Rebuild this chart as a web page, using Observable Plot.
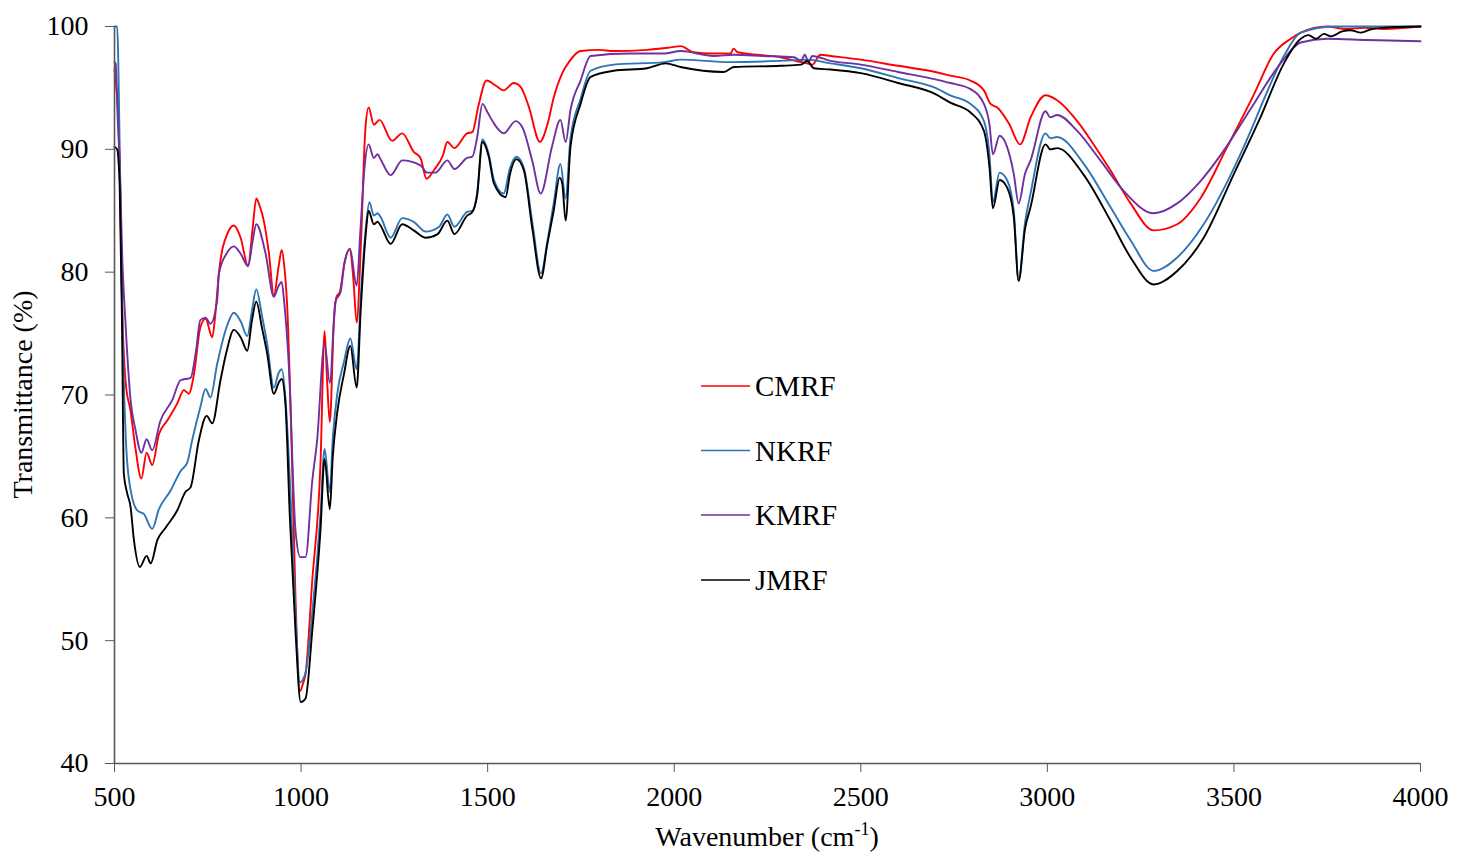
<!DOCTYPE html>
<html><head><meta charset="utf-8">
<script src="https://cdn.jsdelivr.net/npm/d3@7"></script>
<script src="https://cdn.jsdelivr.net/npm/@observablehq/plot@0.6"></script>
<style>html,body{margin:0;padding:0;background:#fff;} svg{display:block;}</style>
</head><body><div id="chart"></div>
<script>
const seriesNames = ["CMRF", "NKRF", "KMRF", "JMRF"];
const seriesColors = ["#ff0000", "#2e75b6", "#7030a0", "#000000"];
const xTicks = [500, 1000, 1500, 2000, 2500, 3000, 3500, 4000];
const yTicks = [40, 50, 60, 70, 80, 90, 100];

const cmrfWn = [500,505,510,515,520,530,543,556,572,586,601,619,641,668,686,699,713,730,744,762,770,780,802,820,838,858,870,880,890,900,914,927,940,948,955,963,976,985,997,1005,1012,1030,1052,1063,1070,1077,1088,1095,1104,1116,1131,1140,1149,1160,1172,1181,1195,1210,1244,1271,1302,1320,1336,1356,1380,1392,1411,1445,1459,1475,1497,1521,1543,1570,1588,1610,1640,1660,1677,1700,1720,1749,1800,1837,1927,1990,2017,2052,2100,2151,2159,2170,2285,2340,2356,2370,2392,2419,2500,2600,2700,2740,2794,2830,2848,2866,2897,2927,2955,2995,3026,3080,3124,3169,3223,3285,3348,3410,3482,3554,3607,3652,3679,3750,3800,3850,3900,4000];
const cmrfT = [96.5,95,93,87,78,71,68.7,65.7,63.2,65.3,64.3,66.8,67.9,69.3,70.4,70.1,71.7,75.5,76.2,74.7,76.5,80.0,83.1,83.8,82.8,80.5,83.5,86.0,85.3,84.2,81.5,78.1,80.5,81.8,80.5,77.1,64.4,53.5,45.9,46.5,47.3,54.9,64.4,75.2,71.0,67.8,76.0,78.0,78.4,80.7,81.9,79.5,75.9,82.0,91.5,93.4,92.0,92.4,90.7,91.3,89.8,89.3,87.6,88.3,89.5,90.6,90.1,91.3,91.4,93.5,95.6,95.2,94.8,95.4,95.1,93.5,90.6,92.0,94.2,96.2,97.2,98.0,98.1,98.0,98.1,98.3,98.4,97.9,97.8,97.8,98.2,97.9,97.5,97.1,97.0,96.9,97.7,97.6,97.3,96.8,96.3,96.0,95.6,94.8,93.7,93.4,92.1,90.4,92.6,94.4,94.0,92.3,90.4,88.3,85.6,83.4,83.9,86.0,90.2,94.5,97.8,99.0,99.5,100,99.8,99.9,99.8,100];

const nkrfWn = [500,507,514,521,529,538,561,579,601,619,650,677,695,708,730,744,757,775,800,820,838,856,868,880,895,909,927,940,948,958,972,985,997,1012,1030,1052,1063,1077,1085,1097,1115,1132,1149,1160,1173,1183,1195,1205,1213,1240,1271,1302,1334,1370,1392,1411,1445,1459,1472,1486,1503,1517,1543,1560,1577,1597,1620,1643,1660,1677,1695,1709,1722,1749,1776,1838,1973,2017,2151,2285,2356,2419,2500,2600,2700,2740,2794,2830,2845,2854,2872,2892,2910,2923,2940,2955,2995,3008,3026,3098,3169,3223,3285,3348,3419,3491,3545,3571,3634,3679,3768,4000];
const nkrfT = [100,100,90,76,67.4,63.3,60.6,60.3,59.1,60.7,62.2,63.8,64.5,66.3,69.0,70.5,69.8,72.5,75.5,76.7,76.0,74.8,76.8,78.6,76.5,74.2,70.6,71.8,72.1,69.8,61.7,52.2,46.6,47.4,52.2,60.3,65.6,62.1,66.5,70.1,72.7,74.6,72.1,78.0,83.4,85.7,84.6,84.8,84.5,82.8,84.4,84.1,83.3,83.7,84.7,83.7,84.9,85.0,86.5,90.8,89.6,87.5,86.4,88.5,89.4,88.5,84.0,79.9,82.5,85.6,88.8,86.0,90.9,94.1,96.4,96.9,97.1,97.3,97.1,97.2,97.3,97.0,96.6,95.8,95.0,94.4,93.7,92.3,89.5,85.7,88.1,87.5,85.0,79.3,84.0,86.4,91.3,90.9,91.0,88.8,85.3,82.6,80.1,81.2,83.9,87.9,91.5,93.4,97.6,99.5,100,100];

const kmrfWn = [500,503,508,514,521,529,543,556,572,586,601,623,655,677,704,718,730,744,757,775,780,800,820,838,858,870,880,905,927,940,948,955,967,985,998,1012,1030,1043,1063,1077,1092,1106,1116,1131,1149,1159,1170,1181,1195,1205,1213,1240,1271,1320,1338,1360,1392,1411,1445,1459,1472,1486,1500,1517,1543,1575,1593,1620,1642,1673,1695,1709,1722,1749,1776,1883,1973,2017,2106,2160,2240,2321,2340,2350,2360,2370,2419,2500,2600,2700,2740,2794,2830,2845,2854,2872,2892,2910,2923,2940,2955,2995,3008,3026,3080,3142,3205,3285,3348,3410,3482,3545,3625,3679,3750,3857,4000];
const kmrfT = [97.1,97.0,93,88.8,81,76.1,69.6,67.2,65.3,66.4,65.5,67.9,69.6,71.2,71.4,73.5,76.1,76.3,75.8,77.7,79.9,81.5,82.1,81.5,80.5,82.5,83.9,81.5,78.0,78.9,79.2,77.5,72.5,59.0,56.8,56.8,63.0,66.3,74.2,71.0,77.6,78.4,80.7,81.9,78.9,83.4,88.5,90.4,89.3,89.6,89.2,87.9,89.1,88.7,88.1,88.1,89.1,88.4,89.3,89.4,91.0,93.7,93.0,92.1,91.3,92.3,91.8,89.0,86.4,90.3,92.4,90.6,93.2,95.6,97.6,97.8,97.8,98.0,97.6,97.7,97.6,97.5,97.2,97.7,97.1,97.6,97.2,96.9,96.3,95.7,95.4,94.9,93.7,92.0,89.6,91.1,90.2,88.0,85.6,88.0,89.1,93.1,92.6,92.8,91.5,89.1,86.6,84.8,85.6,87.4,90.3,93.3,97.0,98.7,99.0,98.9,98.8];

const jmrfWn = [500,507,514,520,525,534,543,552,568,586,597,615,637,668,690,704,726,747,762,784,800,820,838,856,868,880,895,909,927,940,948,958,970,985,999,1012,1030,1052,1063,1077,1085,1097,1115,1132,1149,1160,1173,1181,1195,1205,1213,1240,1271,1302,1334,1366,1392,1411,1445,1459,1472,1486,1503,1517,1548,1560,1577,1597,1620,1643,1660,1677,1693,1700,1709,1722,1749,1776,1838,1927,1977,2017,2133,2160,2285,2340,2356,2374,2419,2500,2600,2700,2740,2794,2830,2845,2854,2872,2892,2910,2923,2940,2955,2995,3008,3026,3098,3169,3223,3285,3348,3419,3500,3571,3634,3679,3700,3720,3741,3760,3790,3812,3840,3870,3902,4000];
const jmrfT = [90.2,90.0,86.9,76.1,63.6,62.0,60.9,58.2,56.0,56.9,56.3,58.2,59.2,60.6,62.1,62.5,66.3,68.3,67.7,71.2,73.5,75.3,74.7,73.6,76.0,77.6,75.5,73.4,70.1,71.0,71.3,69.3,60.0,50.8,45.0,45.3,50.8,59.0,64.8,60.7,65.0,68.6,71.7,74.0,70.6,77.0,83.0,85.0,83.9,84.1,83.8,82.3,83.9,83.4,82.8,83.1,84.2,83.1,84.6,84.9,86.3,90.6,89.4,87.2,86.1,88.0,89.2,88.3,83.5,79.5,82.3,85.0,87.7,87.2,84.2,90.2,93.7,95.9,96.4,96.6,97.0,96.7,96.3,96.7,96.8,96.9,97.2,96.6,96.5,96.2,95.4,94.5,93.8,93.0,91.5,88.5,85.2,87.5,86.9,84.5,79.3,83.5,85.3,90.4,90.0,90.1,87.9,84.2,81.2,79.0,80.1,82.8,88.0,92.6,97.0,99.0,99.3,99.0,99.4,99.2,99.6,99.7,99.5,99.8,99.9,100];

const seriesWn = [cmrfWn, nkrfWn, kmrfWn, jmrfWn];
const seriesT = [cmrfT, nkrfT, kmrfT, jmrfT];
const table = [];
seriesNames.forEach((name, i) => {
  seriesWn[i].forEach((wn, j) => table.push({series: name, wn, t: seriesT[i][j]}));
});

const FONT = "'Liberation Serif', 'Times New Roman', serif";
const axisColor = "#595959";

const plot = Plot.plot({
  width: 1468,
  height: 853,
  marginLeft: 114,
  marginRight: 48,
  marginTop: 26,
  marginBottom: 90,
  style: {fontFamily: FONT, fontSize: "28px", color: "#000", background: "#fff"},
  x: {domain: [500, 4000]},
  y: {domain: [40, 100]},
  color: {domain: seriesNames, range: seriesColors},
  marks: [
    Plot.axisX({ticks: xTicks, tickSize: 9, tickPadding: 14, tickFormat: d3.format("d"), label: null, stroke: axisColor, fontSize: 28, fill: "#000"}),
    Plot.axisY({ticks: yTicks, tickSize: 9, tickPadding: 17, tickFormat: d3.format("d"), label: null, stroke: axisColor, fontSize: 28, fill: "#000"}),
    Plot.line(table, {x: "wn", y: "t", z: "series", stroke: "series", curve: "monotone-x", strokeWidth: 1.9}),
    Plot.ruleX([500], {stroke: axisColor, strokeWidth: 1.6}),
    Plot.ruleY([40], {stroke: axisColor, strokeWidth: 1.6})
  ]
});
document.getElementById("chart").appendChild(plot);

const svg = d3.select(plot);
// axis titles
const xt = svg.append("text")
  .attr("x", 767).attr("y", 846)
  .attr("text-anchor", "middle")
  .attr("font-family", FONT).attr("font-size", 28).attr("fill", "#000");
xt.append("tspan").text("Wavenumber (cm");
xt.append("tspan").attr("font-size", 18).attr("dy", -11).text("-1");
xt.append("tspan").attr("dy", 11).text(")");

svg.append("text")
  .attr("transform", "translate(32,394.5) rotate(-90)")
  .attr("text-anchor", "middle")
  .attr("font-family", FONT).attr("font-size", 28).attr("fill", "#000")
  .text("Transmittance (%)");

// legend
const legendRows = [386, 450.5, 515, 580];
seriesNames.forEach((name, i) => {
  const g = svg.append("g");
  g.append("line").attr("x1", 701).attr("x2", 750)
    .attr("y1", legendRows[i]).attr("y2", legendRows[i])
    .attr("stroke", seriesColors[i]).attr("stroke-width", 1.6);
  g.append("text").attr("x", 755).attr("y", legendRows[i] + 10)
    .attr("text-anchor", "start")
    .attr("font-family", FONT).attr("font-size", 29).attr("fill", "#000")
    .text(name);
});
</script>
</body></html>
